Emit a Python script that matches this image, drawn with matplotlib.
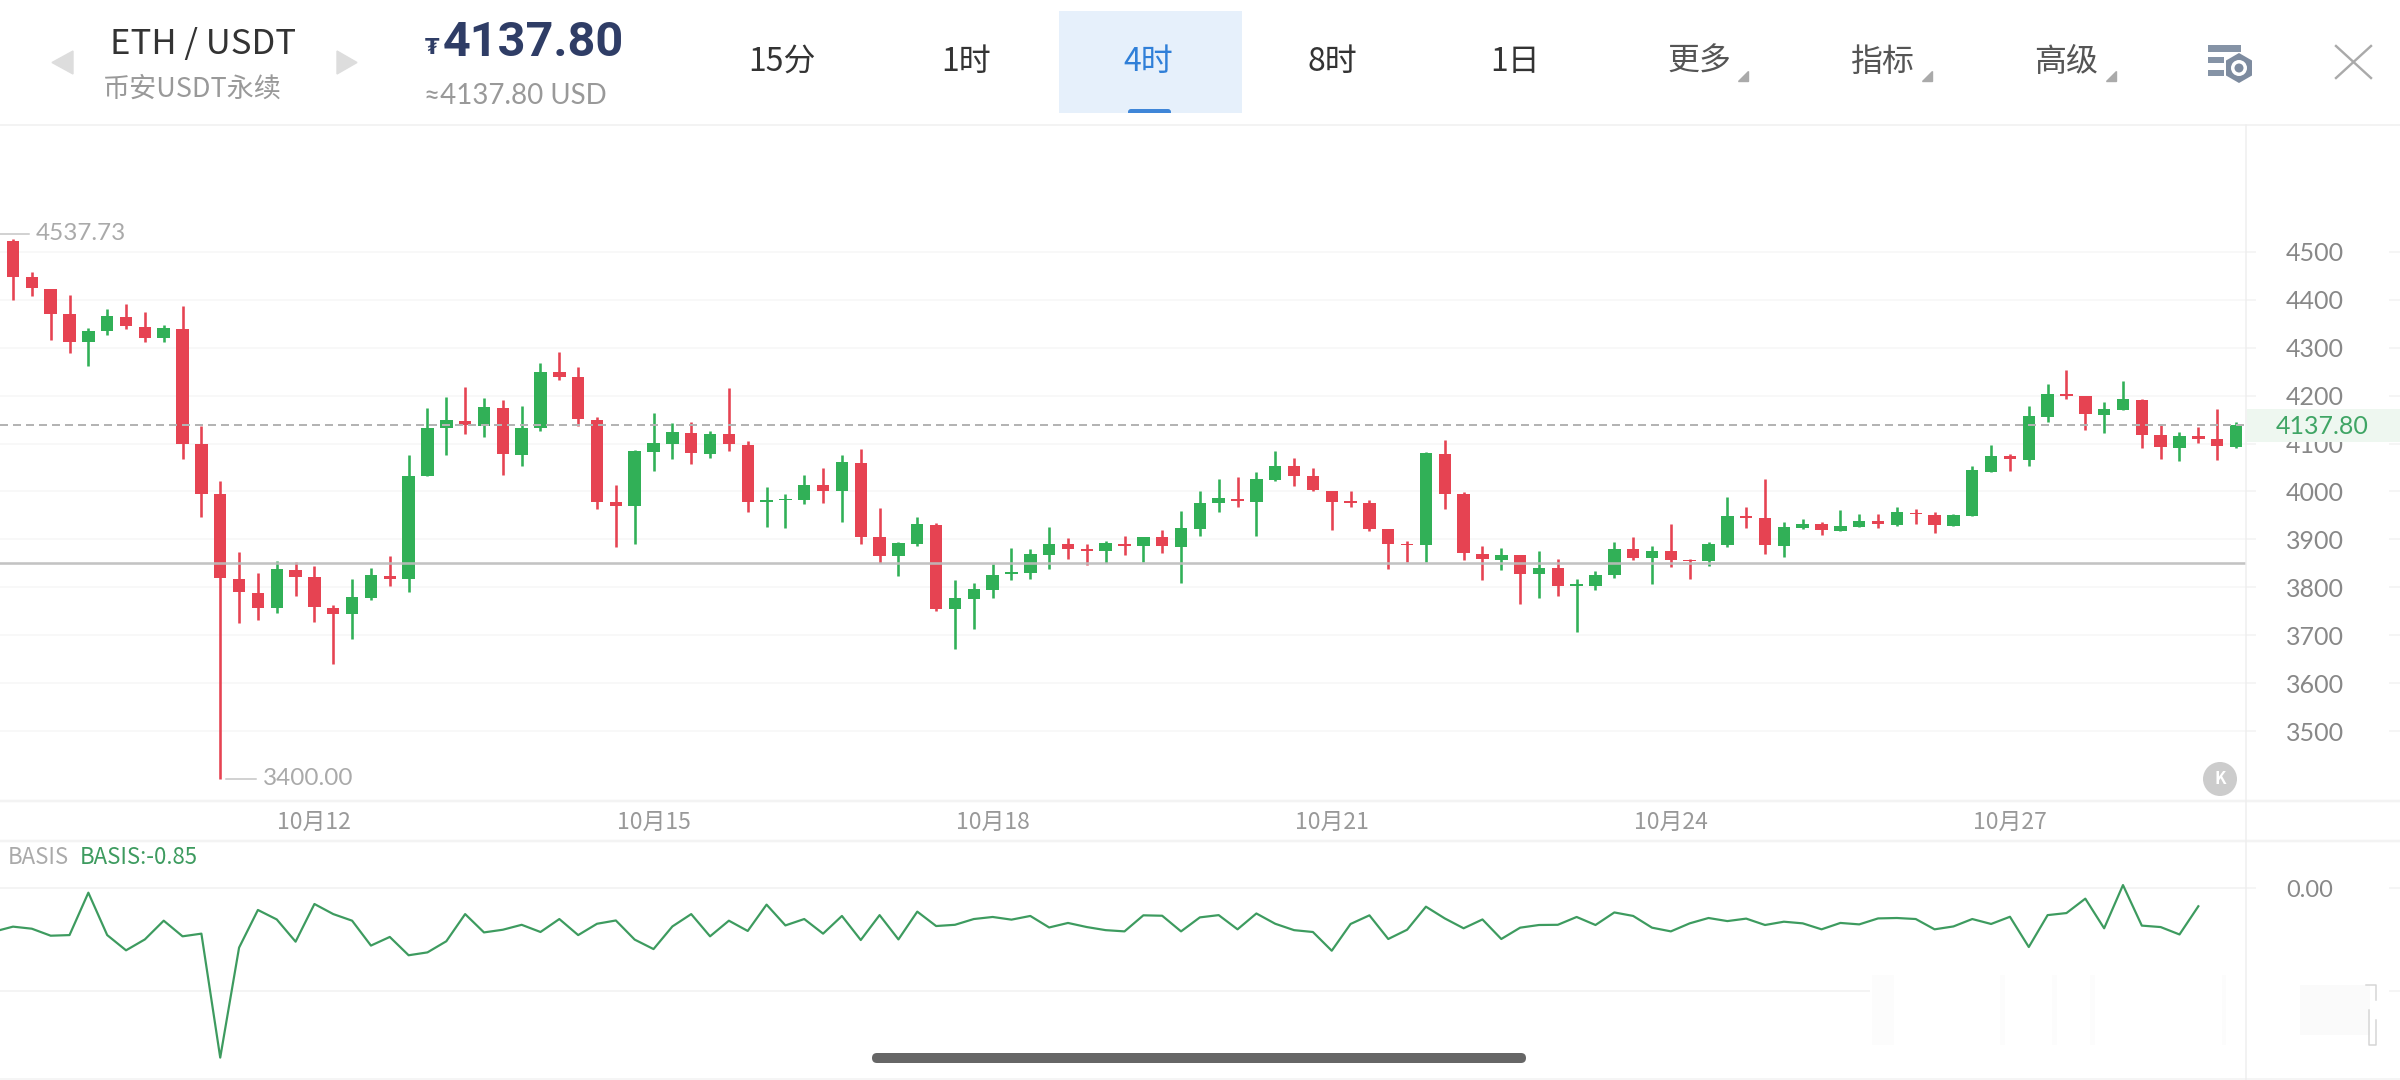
import numpy as np
import matplotlib
matplotlib.use('Agg')
import matplotlib.pyplot as plt
from matplotlib.patches import Rectangle, Polygon, Circle, FancyBboxPatch, RegularPolygon

CJK = ['Noto Sans CJK SC', 'DejaVu Sans']
NUM = ['Lato', 'DejaVu Sans']
plt.rcParams['font.family'] = CJK

opens = [4522, 4447, 4423, 4370, 4312, 4335, 4364, 4343, 4320, 4340, 4100, 3994, 3818, 3789, 3756, 3837, 3821, 3757, 3744, 3778,
         3824, 3818, 4032, 4132, 4148, 4136, 4175, 4077, 4132, 4249, 4238, 4149, 3978, 3969, 4082, 4099, 4123, 4079, 4119, 4098,
         3979, 3982, 3983, 4013, 4001, 4060, 3904, 3865, 3890, 3930, 3754, 3776, 3795, 3828, 3829, 3868, 3890, 3880, 3875, 3891,
         3886, 3904, 3885, 3922, 3976, 3984, 3979, 4024, 4053, 4032, 4002, 3981, 3977, 3921, 3891, 3888, 4079, 3994, 3870, 3857,
         3867, 3827, 3840, 3803, 3803, 3825, 3879, 3861, 3875, 3857, 3854, 3888, 3949, 3945, 3886, 3923, 3932, 3918, 3926, 3938,
         3930, 3956, 3951, 3928, 3949, 4041, 4074, 4066, 4155, 4203, 4199, 4159, 4171, 4191, 4117, 4091, 4116, 4109, 4093]
closes = [4448, 4424, 4371, 4312, 4336, 4366, 4345, 4320, 4341, 4100, 3995, 3819, 3790, 3757, 3838, 3822, 3758, 3745, 3779, 3825,
          3818, 4032, 4132, 4150, 4138, 4176, 4078, 4133, 4250, 4239, 4151, 3979, 3970, 4084, 4101, 4124, 4080, 4120, 4099, 3979,
          3983, 3985, 4013, 4002, 4061, 3905, 3866, 3893, 3932, 3755, 3777, 3796, 3826, 3831, 3869, 3891, 3880, 3876, 3892, 3887,
          3905, 3887, 3923, 3977, 3986, 3980, 4026, 4054, 4033, 4003, 3979, 3977, 3922, 3891, 3889, 4081, 3995, 3872, 3859, 3868,
          3828, 3840, 3803, 3806, 3826, 3880, 3862, 3876, 3858, 3855, 3890, 3949, 3945, 3888, 3926, 3933, 3919, 3928, 3939, 3932,
          3957, 3953, 3930, 3950, 4044, 4074, 4067, 4157, 4203, 4199, 4161, 4172, 4193, 4118, 4093, 4115, 4109, 4095, 4137.8]
highs = [4528, 4458, 4423, 4410, 4342, 4380, 4391, 4375, 4348, 4387, 4136, 4021, 3873, 3830, 3855, 3852, 3845, 3763, 3818, 3841,
         3865, 4077, 4175, 4198, 4218, 4195, 4192, 4179, 4268, 4291, 4260, 4156, 4013, 4087, 4163, 4142, 4144, 4127, 4216, 4105,
         4010, 3994, 4034, 4049, 4076, 4088, 3965, 3895, 3947, 3934, 3816, 3808, 3848, 3882, 3880, 3925, 3903, 3891, 3897, 3907,
         3905, 3919, 3960, 4001, 4026, 4030, 4040, 4084, 4070, 4048, 4002, 4002, 3983, 3921, 3896, 4083, 4108, 3998, 3887, 3882,
         3867, 3876, 3859, 3817, 3835, 3895, 3905, 3886, 3933, 3859, 3894, 3988, 3968, 4026, 3936, 3943, 3937, 3962, 3954, 3954,
         3968, 3963, 3958, 3954, 4054, 4097, 4079, 4178, 4224, 4253, 4199, 4186, 4231, 4193, 4138, 4125, 4134, 4173, 4145]
lows = [4400, 4408, 4316, 4290, 4262, 4326, 4340, 4312, 4311, 4067, 3947, 3400, 3725, 3731, 3747, 3782, 3727, 3639, 3692, 3773,
        3802, 3791, 4032, 4077, 4121, 4113, 4034, 4054, 4126, 4232, 4136, 3964, 3884, 3890, 4042, 4068, 4058, 4070, 4085, 3958,
        3926, 3924, 3974, 3977, 3937, 3890, 3851, 3823, 3886, 3751, 3671, 3712, 3777, 3816, 3817, 3839, 3860, 3846, 3851, 3867,
        3852, 3872, 3809, 3908, 3957, 3968, 3907, 4022, 4011, 4002, 3920, 3968, 3918, 3838, 3852, 3852, 3963, 3856, 3816, 3836,
        3766, 3777, 3781, 3707, 3795, 3820, 3858, 3807, 3843, 3817, 3844, 3885, 3924, 3870, 3864, 3922, 3910, 3918, 3926, 3923,
        3927, 3933, 3914, 3928, 3949, 4040, 4043, 4054, 4145, 4194, 4129, 4122, 4170, 4090, 4067, 4064, 4102, 4066, 4091]
# first value sits just off the left edge, one bar before the first candle
basis = [-2.10, -1.86, -1.96, -2.30, -2.27, -0.21, -2.27, -3.01, -2.48, -1.57, -2.33, -2.20, -8.22, -2.88, -1.05, -1.51, -2.59,
         -0.76, -1.25, -1.57, -2.78, -2.36, -3.25, -3.11, -2.57, -1.25, -2.14, -2.01, -1.77, -2.12, -1.49, -2.27, -1.72, -1.56,
         -2.49, -2.95, -1.85, -1.25, -2.33, -1.57, -2.07, -0.79, -1.80, -1.49, -2.20, -1.34, -2.51, -1.30, -2.48, -1.13, -1.83,
         -1.77, -1.49, -1.39, -1.52, -1.34, -1.90, -1.68, -1.88, -2.03, -2.09, -1.31, -1.33, -2.09, -1.41, -1.30, -1.99, -1.22,
         -1.72, -2.03, -2.12, -3.03, -1.73, -1.31, -2.46, -2.01, -0.89, -1.46, -1.94, -1.51, -2.46, -1.91, -1.78, -1.77, -1.39,
         -1.78, -1.17, -1.34, -1.91, -2.09, -1.70, -1.44, -1.59, -1.47, -1.78, -1.62, -1.70, -1.99, -1.68, -1.75, -1.46, -1.44,
         -1.49, -1.99, -1.85, -1.49, -1.73, -1.38, -2.85, -1.30, -1.20, -0.50, -1.94, 0.16, -1.81, -1.88, -2.24, -0.87]
price_ticks = [3500, 3600, 3700, 3800, 3900, 4000, 4100, 4200, 4300, 4400, 4500]
date_pos = [16, 34, 52, 70, 88, 106]
date_labels = ['10月12', '10月15', '10月18', '10月21', '10月24', '10月27']
tabs = ['15分', '1时', '4时', '8时', '1日', '更多', '指标', '高级']
last_price = 4137.80
level_price = 3851

W, H = 2400, 1080
GREEN, RED = '#31b057', '#e64352'
PX = 0.72  # pixels to points at dpi 100


def axes_px(fig, x0, y0, x1, y1):
    return fig.add_axes([x0 / W, 1 - y1 / H, (x1 - x0) / W, (y1 - y0) / H])


fig = plt.figure(figsize=(24, 10.8), dpi=100, facecolor='white')

# candles
ax = axes_px(fig, 0, 125, 2246, 800)
idx = np.arange(len(opens))
o, c, h, l = map(np.array, (opens, closes, highs, lows))
colors = np.where(c >= o, GREEN, RED)
ax.vlines(idx, l, h, colors=colors, lw=2.6 * PX, zorder=3)
ax.bar(idx, np.abs(c - o), bottom=np.minimum(o, c), width=0.66, color=colors, zorder=3)
ax.set_xlim(-0.69, 118.53)
ax.set_ylim(3356, 4765)
ax.set_yticks(price_ticks)
ax.yaxis.tick_right()
ax.set_xticks([])
ax.tick_params(axis='y', length=10 * PX, width=1.5 * PX, color='#f2f2f2', labelcolor='#888888', labelsize=18, pad=30 * PX)
for lab in ax.get_yticklabels():
    lab.set_fontfamily(NUM)
ax.grid(axis='y', color='#f6f6f6', lw=1.5 * PX, zorder=0)
ax.set_axisbelow(True)
for s in ax.spines.values():
    s.set_visible(False)
ax.hlines(price_ticks, 2389 / 2246, 1.07, transform=ax.get_yaxis_transform(), colors='#f2f2f2', lw=1.5 * PX, clip_on=False)
ax.axhline(last_price, color='#b4b4b4', lw=2 * PX, dashes=(4, 2.5), zorder=4)
ax.axhline(level_price, color='#bdbdbd', lw=2.6 * PX, alpha=0.9, zorder=4)

# high and low markers
i_hi = 0
i_lo = int(np.argmin(l))
ax.plot([-0.69, 0.84], [4537.73, 4537.73], color='#c4c4c4', lw=1.5 * PX, zorder=3)
ax.text(1.22, 4537.73, '4537.73', color='#aaaaaa', fontsize=17.5, family=NUM, va='center', ha='left')
ax.plot([i_lo + 0.31, i_lo + 1.9], [l[i_lo], l[i_lo]], color='#c4c4c4', lw=1.5 * PX, zorder=3)
ax.text(i_lo + 2.27, l[i_lo], '3400.00', color='#aaaaaa', fontsize=17.5, family=NUM, va='center', ha='left')

# basis panel
ax2 = axes_px(fig, 0, 841, 2246, 1079)
ax2.plot(np.arange(-1, len(basis) - 1), basis, color='#3d9b5f', lw=2.2 * PX, zorder=3)
ax2.set_xlim(-0.69, 118.53)
ax2.set_ylim(-9.26, 2.30)
ax2.set_yticks([0, -5], ['0.00', ''])
ax2.yaxis.tick_right()
ax2.set_xticks([])
ax2.tick_params(axis='y', length=10 * PX, width=1.5 * PX, color='#f2f2f2', labelcolor='#888888', labelsize=17, pad=30 * PX)
for lab in ax2.get_yticklabels():
    lab.set_fontfamily(NUM)
ax2.grid(axis='y', color='#f1f1f1', lw=1.5 * PX, zorder=0)
ax2.set_axisbelow(True)
for s in ax2.spines.values():
    s.set_visible(False)
ax2.hlines([0, -5], 2389 / 2246, 1.07, transform=ax2.get_yaxis_transform(), colors='#f2f2f2', lw=1.5 * PX, clip_on=False)
ax2.text(8 / 2246, 1 - 16 / 238, 'BASIS', transform=ax2.transAxes, color='#aaaaaa', fontsize=16, va='center')
ax2.text(80 / 2246, 1 - 16 / 238, 'BASIS:-0.85', transform=ax2.transAxes, color='#3d9b5f', fontsize=16, va='center')

# date strip between the two panels
ax3 = axes_px(fig, 0, 801, 2246, 840)
ax3.set_xlim(-0.69, 118.53)
ax3.set_ylim(0, 1)
ax3.axis('off')
for p, t in zip(date_pos, date_labels):
    ax3.text(p, 0.46, t, color='#999999', fontsize=16.5, ha='center', va='center')

# app chrome, in pixel coordinates
top = fig.add_axes([0, 0, 1, 1], zorder=5)
top.set_xlim(0, W)
top.set_ylim(H, 0)
top.axis('off')
top.patch.set_alpha(0)

for y, lw in [(124.5, 2), (800.5, 2.5), (840.5, 2.5), (1079, 1.5)]:
    top.plot([0, W], [y, y], color='#f3f3f3', lw=lw * PX)
top.plot([2246, 2246], [125, H], color='#eeeeee', lw=1.5 * PX)

top.add_patch(Polygon([(73, 51), (73, 74), (52, 62.5)], color='#dddddd'))
top.add_patch(Polygon([(337, 51), (337, 74), (357, 62.5)], color='#dddddd'))
top.text(203, 44, 'ETH / USDT', color='#333333', fontsize=25, ha='center', va='center')
top.text(192, 89, '币安USDT永续', color='#999999', fontsize=19.5, ha='center', va='center')
top.text(432, 48, '₮', color='#2f3d66', fontsize=15, ha='center', va='center', family=['DejaVu Sans'], fontweight='bold')
top.text(443, 43, '4137.80', color='#2f3d66', fontsize=35, ha='left', va='center', fontweight='bold', family=['Roboto', 'DejaVu Sans'])
top.text(424, 96, '≈4137.80 USD', color='#999999', fontsize=20, ha='left', va='center', family=NUM)

top.add_patch(Rectangle((1059, 11), 183, 102, color='#e6f0fb', lw=0))
top.add_patch(FancyBboxPatch((1128, 109), 43, 8, boxstyle='round,pad=0,rounding_size=3', color='#3f86d8', lw=0, clip_path=None))
top.add_patch(Rectangle((1120, 113), 60, 8, color='white', lw=0))
tab_x = [782, 966, 1148, 1332, 1515, 1699, 1882, 2066]
tab_col = ['#333333', '#333333', '#2f7fd8', '#333333', '#333333', '#555555', '#555555', '#555555']
for x, t, col in zip(tab_x, tabs, tab_col):
    top.text(x, 62, t, color=col, fontsize=23, ha='center', va='center')
for x in [1748, 1932, 2116]:
    top.add_patch(Polygon([(x, 71), (x, 81), (x - 10, 81)], color='#aaaaaa'))

for x1, y, h_ in [(2241, 45, 7), (2224, 57, 6), (2224, 70, 6)]:
    top.add_patch(Rectangle((2208, y), x1 - 2208, h_, color='#8593a6', lw=0))
top.add_patch(RegularPolygon((2239, 68), 6, radius=15, color='#7d8b9f', lw=0))
top.add_patch(Circle((2239, 68), 8, color='white', lw=0))
top.add_patch(Circle((2239, 68), 4.5, color='#7d8b9f', lw=0))
top.plot([2336, 2371], [46, 78], color='#aaaaaa', lw=2.4 * PX)
top.plot([2336, 2371], [78, 46], color='#aaaaaa', lw=2.4 * PX)

top.add_patch(Rectangle((2247, 409), 153, 33, color='#eef7f0', lw=0))
top.text(2322, 426, '4137.80', color='#3fa565', fontsize=18, ha='center', va='center', family=NUM)

top.add_patch(Circle((2220, 779), 17, color='#cccccc', lw=0))
top.text(2220, 779, 'K', color='white', fontsize=12, ha='center', va='center', fontweight='bold')

top.add_patch(FancyBboxPatch((872, 1053), 654, 10, boxstyle='round,pad=0,rounding_size=5', color='#666666', lw=0, mutation_aspect=1))

# faint erased watermark over the basis panel
top.add_patch(Rectangle((1870, 982), 510, 16, color='white', lw=0))
top.add_patch(Rectangle((2300, 985), 70, 50, color='#fafafa', lw=0))
for x, w_ in [(1872, 22), (2000, 5), (2052, 5), (2090, 5), (2222, 4)]:
    top.add_patch(Rectangle((x, 975), w_, 70, color='#fcfcfc', lw=0))
top.plot([2366, 2376, 2376], [985, 985, 1000], color='#d5d5d5', lw=1.5 * PX)
top.plot([2369, 2369, 2376, 2376], [1010, 1045, 1045, 1020], color='#d5d5d5', lw=1.5 * PX)

fig.savefig('out.png', dpi=100, facecolor='white')
